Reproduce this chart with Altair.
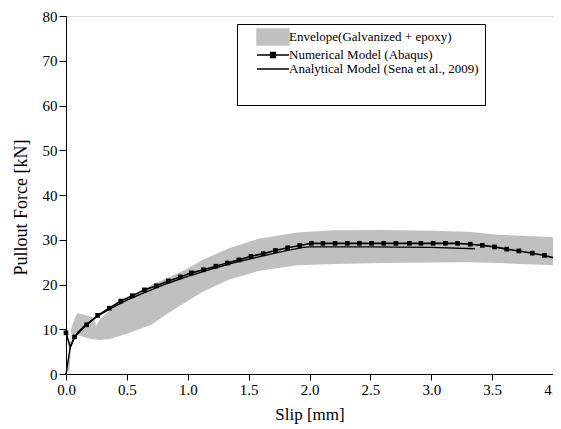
import altair as alt
import pandas as pd

# ---- data ----
series_names = [
    "Envelope(Galvanized + epoxy)",
    "Numerical Model (Abaqus)",
    "Analytical Model (Sena et al., 2009)",
]

env_x = [0.0, 0.03, 0.045, 0.09, 0.18, 0.235, 0.245, 0.28, 0.36, 0.5, 0.7, 0.85,
         1.0, 1.12, 1.34, 1.59, 1.9, 2.2, 2.6, 3.0, 3.3, 3.55, 4.0]
env_upper = [0.0, 6.0, 10.5, 13.6, 13.0, 12.5, 10.6, 12.3, 14.2, 16.8, 19.9, 21.7,
             23.6, 25.5, 28.1, 30.3, 31.6, 32.1, 32.2, 32.0, 31.8, 31.1, 30.6]
env_lower = [0.0, 1.0, 9.0, 8.7, 8.0, 7.7, 7.7, 7.6, 7.8, 9.0, 11.0, 13.8,
             16.3, 18.3, 21.1, 23.1, 24.3, 24.6, 24.8, 24.9, 25.0, 24.8, 24.3]

num_x = [0.0, 0.035, 0.07, 0.17, 0.26, 0.355, 0.45, 0.545, 0.644, 0.742, 0.84,
         0.938, 1.03, 1.13, 1.23, 1.325, 1.42, 1.52, 1.62, 1.72, 1.82, 1.92,
         2.015, 2.11, 2.21, 2.31, 2.41, 2.51, 2.61, 2.71, 2.82, 2.915, 3.015,
         3.116, 3.217, 3.32, 3.42, 3.52, 3.62, 3.72, 3.83, 3.93, 4.0]
num_y = [9.2, 6.0, 8.3, 11.0, 13.1, 14.7, 16.3, 17.5, 18.8, 19.7, 20.8,
         21.7, 22.6, 23.3, 24.1, 24.8, 25.5, 26.3, 26.9, 27.6, 28.2, 28.7,
         29.2, 29.2, 29.2, 29.2, 29.2, 29.2, 29.2, 29.2, 29.2, 29.2, 29.2,
         29.2, 29.2, 29.0, 28.75, 28.4, 27.9, 27.5, 27.0, 26.5, 26.0]

ana_x = [0.0, 0.035, 0.07, 0.1, 0.15, 0.2, 0.3, 0.4, 0.5, 0.6, 0.7, 0.8, 0.9,
         1.0, 1.2, 1.4, 1.6, 1.8, 1.95, 2.0, 2.5, 3.0, 3.36]
ana_y = [0.0, 6.0, 8.2, 9.4, 10.7, 11.8, 13.6, 15.1, 16.5, 17.7, 18.8, 19.9, 20.9,
         21.8, 23.5, 25.0, 26.3, 27.5, 28.3, 28.4, 28.4, 28.3, 28.0]

# major + minor tick positions
x_ticks = [0.0, 0.25, 0.5, 0.75, 1.0, 1.25, 1.5, 1.75, 2.0, 2.25, 2.5, 2.75,
           3.0, 3.25, 3.5, 3.75, 4.0]
y_ticks = [0, 5, 10, 15, 20, 25, 30, 35, 40, 45, 50, 55, 60, 65, 70, 75, 80]

# ---- frames ----
env_df = pd.DataFrame({"x": env_x, "lo": env_lower, "hi": env_upper,
                       "series": series_names[0]})
num_df = pd.DataFrame({"x": num_x, "y": num_y, "series": series_names[1]})
marker_df = num_df.drop(index=[1, len(num_df) - 1])  # no marker at the kink / clipped end
ana_df = pd.DataFrame({"x": ana_x, "y": ana_y, "series": series_names[2]})

FONT = "Liberation Serif"
xscale = alt.Scale(domain=[0, 4], nice=False, zero=False)
yscale = alt.Scale(domain=[0, 80], nice=False)
cscale = alt.Scale(domain=series_names, range=["#c0c0c0", "black", "black"])

x_major = "abs(datum.value * 2 - round(datum.value * 2)) < 1e-6"
y_major = "datum.value % 10 === 0"

x_axis = alt.Axis(values=x_ticks, format=".1f", title="Slip [mm]", orient="bottom",
                  tickSize={"expr": f"{x_major} ? 6 : 4"},
                  labelExpr=f"{x_major} ? datum.label : ''",
                  labelPadding=2, titlePadding=9, grid=False,
                  labelFont=FONT, titleFont=FONT, labelFontSize=15, titleFontSize=17,
                  titleFontWeight="normal", labelColor="black", titleColor="black",
                  domainColor="black", tickColor="black", labelFlush=False,
                  labelOverlap=False)
y_axis = alt.Axis(values=y_ticks, title="Pullout Force [kN]", orient="left",
                  tickSize={"expr": f"{y_major} ? 7 : 4"},
                  labelExpr=f"{y_major} ? datum.label : ''",
                  labelPadding=2, titlePadding=12, titleY=191, grid=False,
                  labelFont=FONT, titleFont=FONT, labelFontSize=15, titleFontSize=18,
                  titleFontWeight="normal", labelColor="black", titleColor="black",
                  domainColor="black", tickColor="black", labelFlush=False,
                  labelOverlap=False)

env_name, num_name, ana_name = series_names
shape_sig = (f"datum.value === '{env_name}' ? 'M-2.67,-1.33H2.67V1.33H-2.67Z' : "
             f"(datum.value === '{num_name}' ? 'M-2.67,0H2.67M-0.4,-0.4H0.4V0.4H-0.4Z' : "
             f"'M-2.67,0H2.67')")
fill_sig = f"datum.value === '{env_name}' ? '#c0c0c0' : 'black'"
nbsp = "\u00a0" * 9

legend = alt.Legend(
    orient="none", legendX=171, legendY=8,
    title="\u2003" * 22, titleOrient="bottom", titleFontSize=13.3, titlePadding=9,
    titleLimit=400, titleFont=FONT,
    padding=6, strokeColor="black", fillColor="white",
    labelFont=FONT, labelFontSize=13, labelColor="black", labelLimit=400,
    labelExpr=f"datum.label + '{nbsp}'",
    symbolSize=144, symbolOffset=23, labelOffset=9, rowPadding=0,
    symbolStrokeWidth=1.5, symbolOpacity=1,
    symbolType={"expr": shape_sig},
    symbolFillColor={"expr": fill_sig},
    symbolStrokeColor={"expr": fill_sig},
)

area = alt.Chart(env_df).mark_area(opacity=1).encode(
    x=alt.X("x:Q", scale=xscale, axis=x_axis),
    y=alt.Y("lo:Q", scale=yscale, axis=y_axis),
    y2="hi:Q",
    color=alt.Color("series:N", scale=cscale, legend=legend),
)

ana_line = alt.Chart(ana_df).mark_line(strokeWidth=1.4).encode(
    x=alt.X("x:Q", scale=xscale),
    y=alt.Y("y:Q", scale=yscale),
    color=alt.Color("series:N", scale=cscale),
)

num_line = alt.Chart(num_df).mark_line(strokeWidth=1.6).encode(
    x=alt.X("x:Q", scale=xscale),
    y=alt.Y("y:Q", scale=yscale),
    color=alt.Color("series:N", scale=cscale),
)

markers = alt.Chart(marker_df).mark_point(shape="square", filled=True, size=22,
                                          opacity=1).encode(
    x=alt.X("x:Q", scale=xscale),
    y=alt.Y("y:Q", scale=yscale),
    color=alt.Color("series:N", scale=cscale),
)

chart = alt.layer(area, ana_line, num_line, markers).properties(
    width=487, height=358,
    autosize=alt.AutoSizeParams(type="none"),
    padding={"left": 58, "top": 8, "right": 0, "bottom": 53},
).configure_view(stroke="black", strokeWidth=1).configure(
    background="white", font=FONT,
).configure_axis(labelFont=FONT, titleFont=FONT)

chart.save("out.html", embed_options={"renderer": "svg", "actions": False})
